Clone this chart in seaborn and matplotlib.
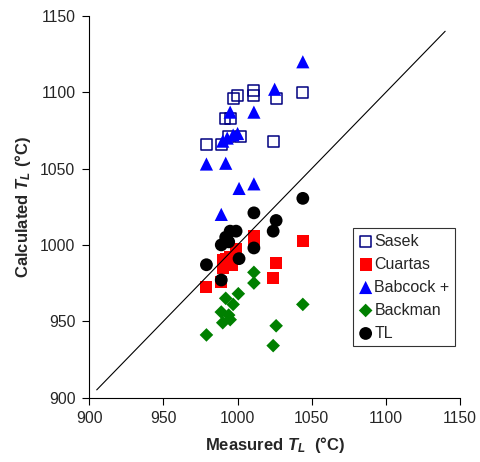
import matplotlib
matplotlib.use("Agg")
import matplotlib.pyplot as plt
import seaborn as sns
import pandas as pd

sasek_x = [979, 989, 994, 1002, 991.5, 995, 997, 1000, 1011, 1011, 1024, 1026, 1044]
sasek_y = [1066, 1066, 1071, 1071, 1083, 1083, 1096, 1098, 1098, 1101, 1068, 1096, 1100]

cuartas_x = [979, 989, 990, 992.5, 996, 999, 1011, 1011, 1024, 1026, 1044, 995, 990]
cuartas_y = [972.5, 976, 985, 991, 987, 997, 1006, 1002, 978.5, 988, 1002.5, 992, 990]

babcock_x = [979, 992, 989, 1001, 1011, 990, 993, 997, 1000, 995, 1011, 1025, 1044]
babcock_y = [1053, 1053.5, 1020, 1037, 1040, 1068, 1070, 1072, 1073, 1087, 1087, 1102, 1120]

backman_x = [979, 989, 990, 992, 994, 995, 997, 1000.5, 1011, 1011, 1024, 1026, 1044]
backman_y = [941, 956, 949, 965, 954, 951, 961, 968, 982, 975, 934, 947, 961]

tl_x = [979, 989, 989, 994, 995, 999, 1001, 1011, 1011, 1024, 1026, 1044, 992]
tl_y = [987, 977, 1000, 1002, 1009, 1009, 991, 998, 1021, 1009, 1016, 1030.5, 1005]

line_x = [905, 1140]
line_y = [905, 1140]

ticks = [900, 950, 1000, 1050, 1100, 1150]

sns.set_style("white")
plt.rcParams['font.family'] = ['Liberation Sans', 'DejaVu Sans']
plt.rcParams['mathtext.fontset'] = 'custom'
plt.rcParams['mathtext.it'] = 'Liberation Sans:bold:italic'
plt.rcParams['mathtext.rm'] = 'Liberation Sans:bold'
plt.rcParams['mathtext.bf'] = 'Liberation Sans:bold'

fig = plt.figure(figsize=(4.8, 4.62), dpi=100)
ax = fig.add_axes([89.3/480, 1 - 397.5/462, 370.7/480, 381.5/462])

series = [
    ("Sasek", sasek_x, sasek_y, dict(marker='s', facecolor='none', edgecolor='#000080', linewidth=1.1, s=62)),
    ("Cuartas", cuartas_x, cuartas_y, dict(marker='s', color='#ff0000', edgecolor='none', s=75)),
    ("Babcock +", babcock_x, babcock_y, dict(marker='^', color='#0000ff', edgecolor='none', s=90)),
    ("Backman", backman_x, backman_y, dict(marker='D', color='#008000', edgecolor='none', s=48)),
    ("TL", tl_x, tl_y, dict(marker='o', color='#000000', edgecolor='none', s=85)),
]
for i, (name, xs, ys, kw) in enumerate(series):
    df = pd.DataFrame({"x": xs, "y": ys})
    sns.scatterplot(data=df, x="x", y="y", ax=ax, label=name, zorder=3 + i, **kw)

sns.lineplot(x=line_x, y=line_y, ax=ax, color='black', linewidth=0.8, zorder=10)

ax.set_xlim(900, 1150)
ax.set_ylim(900, 1150)
ax.set_xticks(ticks)
ax.set_yticks(ticks)
ax.tick_params(axis='both', direction='out', length=5, width=0.8, color='black', labelsize=11.3, pad=5,
               bottom=True, left=True)
for side in ['top', 'right']:
    ax.spines[side].set_visible(False)
for side in ['left', 'bottom']:
    ax.spines[side].set_color('black')
    ax.spines[side].set_linewidth(0.8)

ax.set_xlabel(r"Measured $T_L$  (°C)", fontsize=12, fontweight='bold', labelpad=6)
ax.set_ylabel(r"Calculated $T_L$ (°C)", fontsize=12, fontweight='bold', labelpad=5)

leg = ax.legend(loc='upper left', bbox_to_anchor=(0.711, 0.444), frameon=True, fancybox=False,
                edgecolor='black', fontsize=11.5, handletextpad=0.1, borderpad=0.35,
                labelspacing=0.5, handlelength=0.9, borderaxespad=0)
leg.get_frame().set_linewidth(0.8)

fig.savefig("out.png", dpi=100)
